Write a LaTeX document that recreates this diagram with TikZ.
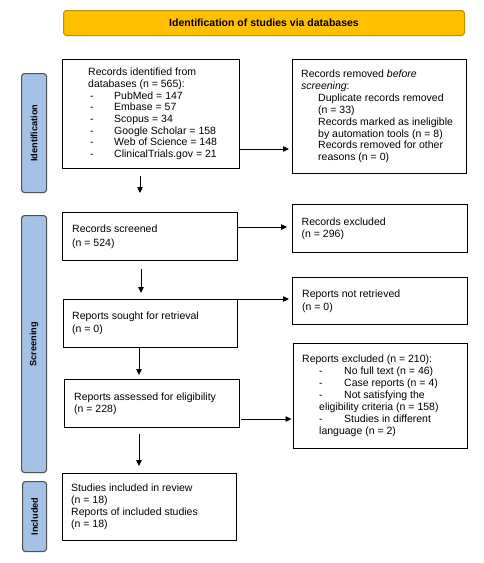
\documentclass[tikz,border=0pt]{standalone}
\usepackage{fontspec}
\setmainfont{Liberation Sans}
\usetikzlibrary{arrows.meta}
\definecolor{bannerfill}{RGB}{255,192,0}
\definecolor{bannerline}{RGB}{191,144,0}
\definecolor{barfill}{RGB}{164,194,230}
\definecolor{barline}{RGB}{80,80,80}
\newcommand{\lditem}[1]{\hspace*{2pt}\makebox[24pt][l]{-}#1}
\newcommand{\rditem}[1]{\hspace*{17pt}\makebox[25pt][l]{-}#1}
\begin{document}
\begin{tikzpicture}[x=1pt,y=-1pt,
  box/.style={draw=black,line width=1pt,anchor=north west,inner sep=0pt},
  bar/.style={draw=barline,fill=barfill,line width=1.1pt,rounded corners=3pt,anchor=north west,inner sep=0pt},
  barlabel/.style={rotate=90,inner sep=0pt,font=\fontsize{9.2}{11}\selectfont\bfseries},
  txt/.style={anchor=west,align=left,inner sep=0pt},
  arr/.style={-{Triangle[width=5.5pt,length=6pt]},line width=0.75pt}]
\useasboundingbox (0,0) rectangle (483,563);

% banner
\node[anchor=north west,inner sep=0pt,minimum width=401pt,minimum height=25pt,
  draw=bannerline,fill=bannerfill,line width=1pt,rounded corners=3pt] (banner) at (63,10) {};
\node[inner sep=0pt,font=\fontsize{10.5}{12}\selectfont\bfseries] (bannert) at (banner.center) {Identification of studies via databases};

% side bars
\node[bar,minimum width=25pt,minimum height=119pt] (bid) at (21,73) {};
\node[barlabel] (bidt) at (bid.center) {Identification};
\node[bar,minimum width=25pt,minimum height=257pt] (bscr) at (21,215) {};
\node[barlabel] (bscrt) at (bscr.center) {Screening};
\node[bar,minimum width=24pt,minimum height=70pt] (binc) at (22,481) {};
\node[barlabel] (binct) at (binc.center) {Included};

% boxes
\node[box,minimum width=177pt,minimum height=109pt] (ident) at (62,59) {};
\node[box,minimum width=174pt,minimum height=114pt] (removed) at (292,59) {};
\node[box,minimum width=175pt,minimum height=48pt] (screen) at (62,212) {};
\node[box,minimum width=175pt,minimum height=48pt] (excl) at (292,204) {};
\node[box,minimum width=174pt,minimum height=48pt] (sought) at (63,299) {};
\node[box,minimum width=175pt,minimum height=47pt] (notret) at (292,277) {};
\node[box,minimum width=175pt,minimum height=48pt] (assess) at (64,379) {};
\node[box,minimum width=174pt,minimum height=105pt] (rexcl) at (293,343) {};
\node[box,minimum width=174pt,minimum height=67pt] (incl) at (62,473) {};

% texts
\node[txt,font=\fontsize{10.5}{11.7}\selectfont] (identt) at ([xshift=26pt]ident.west) {Records identified from\\
databases (n = 565):\\
\lditem{PubMed = 147}\\
\lditem{Embase = 57}\\
\lditem{Scopus = 34}\\
\lditem{Google Scholar = 158}\\
\lditem{Web of Science = 148}\\
\lditem{ClinicalTrials.gov = 21}};

\node[txt,font=\fontsize{10.5}{11.9}\selectfont] (removedt) at ([xshift=9pt]removed.west) {Records removed \textit{before}\\
\textit{screening}:\\
\hspace*{17pt}Duplicate records removed\\
\hspace*{17pt}(n = 33)\\
\hspace*{17pt}Records marked as ineligible\\
\hspace*{17pt}by automation tools (n = 8)\\
\hspace*{17pt}Records removed for other\\
\hspace*{17pt}reasons (n = 0)};

\node[txt,font=\fontsize{10.5}{14}\selectfont] (screent) at ([xshift=10pt]screen.west) {Records screened\\(n = 524)};
\node[txt,font=\fontsize{10.5}{12.3}\selectfont] (exclt) at ([xshift=9.5pt]excl.west) {Records excluded\\(n = 296)};
\node[txt,font=\fontsize{10.5}{13.3}\selectfont] (soughtt) at ([xshift=9pt]sought.west) {Reports sought for retrieval\\(n = 0)};
\node[txt,font=\fontsize{10.5}{12.7}\selectfont] (notrett) at ([xshift=10pt]notret.west) {Reports not retrieved\\(n = 0)};
\node[txt,font=\fontsize{10.5}{12.3}\selectfont] (assesst) at ([xshift=10pt]assess.west) {Reports assessed for eligibility\\(n = 228)};
\node[txt,font=\fontsize{10.5}{12}\selectfont] (rexclt) at ([xshift=9pt]rexcl.west) {Reports excluded (n = 210):\\
\rditem{No full text (n = 46)}\\
\rditem{Case reports (n = 4)}\\
\rditem{Not satisfying the}\\
\hspace*{17pt}eligibility criteria (n = 158)\\
\rditem{Studies in different}\\
\hspace*{17pt}language (n = 2)};
\node[txt,font=\fontsize{10.5}{12}\selectfont] (inclt) at ([xshift=9pt]incl.west) {Studies included in review\\(n = 18)\\Reports of included studies\\(n = 18)};

% arrow guide coordinates
\coordinate (xa) at (140,0);
\coordinate (xb) at (141,0);
\coordinate (xc) at (139,0);
\coordinate (ya) at (0,149);
\coordinate (yb) at (0,227);
\coordinate (yc) at (0,299);
\coordinate (yd) at (0,419);

% arrows
\draw[arr,shorten <=7pt,shorten >=19pt] (ident.south -| xa) -- (screen.north -| xa);
\draw[arr,shorten >=3pt] (ident.east |- ya) -- (removed.west |- ya);
\draw[arr,shorten >=5pt] (screen.east |- yb) -- (excl.west |- yb);
\draw[arr,shorten <=8pt,shorten >=6pt] (screen.south -| xb) -- (sought.north -| xb);
\draw[arr,shorten >=3pt] (sought.east |- yc) -- (notret.west |- yc);
\draw[arr,shorten >=4pt] (sought.south -| xc) -- (assess.north -| xc);
\draw[arr,shorten <=1pt,shorten >=1.5pt] (assess.east |- yd) -- (rexcl.west |- yd);
\draw[arr,shorten <=6pt,shorten >=7pt] (assess.south -| xc) -- (incl.north -| xc);
\end{tikzpicture}
\end{document}
